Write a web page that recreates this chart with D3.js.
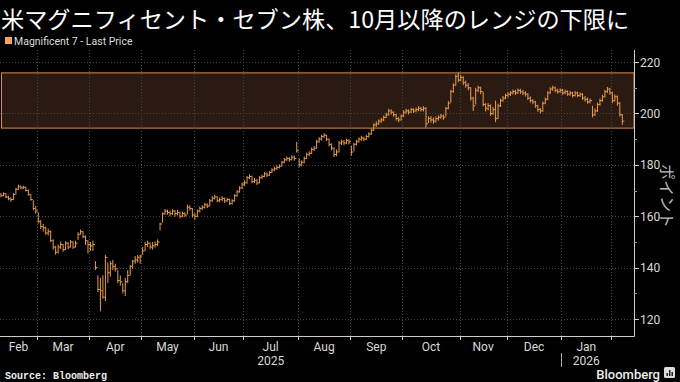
<!DOCTYPE html>
<meta charset="utf-8">
<style>
body{
    margin:0;
    background:#000;
}
svg{
    display:block;
}
.grid line{
    stroke:#444;
    stroke-dasharray:1,2;
}
.tick-label{
    fill:#d9d9d9;
    font-family:Roboto,"Liberation Sans",sans-serif;
    font-size:12px;
}
.bar{
    stroke:#eb9e4c;
    stroke-width:1;
}
</style>
<body>
<script src="https://d3js.org/d3.v7.min.js"></script>
<script>
// trading calendar
var startDate = "2025-02-06";
var holidays = ["2025-02-17","2025-04-18","2025-05-26","2025-06-19","2025-07-04",
                "2025-09-01","2025-11-27","2025-12-25","2026-01-01","2026-01-19"];

// daily bars
var closes = [
168.5,168,168.8,167.5,166.8,166.5,168.5,170.5,171.5,171,
171.3,170,168.5,166.5,163,162,158,156,155.5,153.5,
154,150.5,148,146,148,149,147,149.5,148,150,
148,149.5,153,154,152,150.5,149,148.5,149,140,
131.5,131,128.5,144,138,141.5,140.5,139.5,135,134.5,
131,134.5,137,140.5,142.5,143,144,144.5,146.5,149,
149.5,148,148.5,149,150,157,161,162,161.5,161,
162,161,161.5,160,161,160.5,163.5,163,160.5,160,
162,163,163.5,164.5,164,166,167,167.5,166,166.5,
167,166,166.5,165,166,168,169.5,171,172.5,173,
175,175.5,173.5,174,173,175,175.5,176.5,176,177,
178,178.5,179,179.5,181,182,182.5,182,183,182.5,
185.5,180,181,182.5,184,184.5,186,186.5,189,190,
191,191.5,190,188,186.5,184,185,188.5,189,188.5,
189.5,189,185,188,189,190,190.5,190,191,192,
193.5,195.5,196,197,197.5,198.5,199.5,201,200.5,199.5,
198,197.5,199,200.5,201,200.5,201.5,201,201.5,202,
201.5,202,196,198,197.5,197,198,198.5,199,198.5,
202,204,208.5,211,214.5,213,214,212,211,210,
206,203,209,210,208.5,203.5,202,203,200,201.5,
198,203,205,206,207,207.5,208,208.5,208,209,
208.5,208,207.5,206,205,204.5,203,201.5,201,204,
205.5,208,209.5,210,209,208.5,209,208,208.5,207.5,
208,207,208,207,207.5,206,205.5,204.5,205,199.5,
201,203.5,205,206.5,208.5,209.5,208,205,206.5,204,
199.5,197];

var highs = [
169.3,169,169.3,169,168,167.4,169,171,172.3,172,
171.9,171.5,170.4,168.6,166.2,164,161.5,158.5,157,156,
155.2,154.5,151,148.5,149,150.2,149.2,150.3,150,150.8,
150.2,150.5,153.8,154.8,154.2,152.5,150.6,150,150.5,142.5,
137,136,137,145,142,142.5,143,141.5,139,137,
134,136,139,141,143,144.5,145,145,148,150,
150.5,149.8,150,150.2,151,157.5,161.5,162.8,162.6,162.2,
162.8,162.4,162.5,161.8,161.8,161.6,164.5,164.2,163.2,161.2,
162.6,163.8,164.3,165.2,165,166.7,167.8,168.4,167.8,167.3,
167.8,167.3,167.2,166.8,166.6,168.6,170.2,171.7,173.2,174,
175.7,176.3,175.8,174.8,174.5,175.6,176.2,177.2,177,177.6,
178.7,179.3,179.8,180.2,181.6,182.7,183.3,183,183.7,183.6,
189,182.5,181.8,183.2,184.8,185.3,186.8,187.3,189.7,190.8,
191.7,192.3,191.8,190.2,188.4,186.8,186,189.2,189.8,189.6,
190.2,190,187.5,188.6,189.7,190.7,191.3,191,191.7,192.7,
194.2,196.2,196.9,197.7,198.3,199.2,200.3,201.8,201.6,200.8,
199.8,198.6,199.7,201.2,201.8,201.6,202.2,202,202.3,202.8,
202.6,202.8,202.5,198.9,199,198.4,198.8,199.3,199.8,199.6,
202.6,204.8,209.2,211.8,215.2,215.8,215,214.5,212.8,211.8,
210.2,206.5,210,210.8,210.4,208.5,204,204,203.5,202.5,
205,203.8,205.8,206.8,207.7,208.3,208.7,209.3,209.2,209.7,
209.6,209.2,208.6,207.9,206.6,205.6,204.9,203.4,202.2,204.6,
206.2,208.7,210.2,210.8,210.5,209.6,209.8,209.6,209.3,209,
208.8,208.4,208.7,208.5,208.2,207.9,206.8,206.2,205.8,203,
202,204.2,205.8,207.3,209.2,210.3,210,208.5,207.4,207,
204.5,199.8];

var lows = [
167.8,167.4,167.8,167,166.2,165.6,166.3,168.4,170.3,170.4,
170.6,169.6,168,166,162.4,161,157.2,155,154,152.8,
152.5,150,147,145,145.5,147.3,146.2,146.8,147.2,147.8,
147.3,147.8,150.8,152.8,151.5,148.8,145.5,146.5,146.5,139,
130.5,123,128,127,134,136.5,139,138.5,134,133,
130,129,134,137,139.5,141.5,142,141.5,145,146.5,
148,147.2,147,147.8,148.4,154.5,157.5,160.5,160.6,160,
160.5,159.8,160.3,159.2,159.6,159.7,160.8,162.2,159.5,158.6,
159.6,161.5,162.4,163,163.2,163.8,165.6,166.5,165.4,165.5,
165.9,165.2,165.6,164.3,164.5,165.7,167.6,169.2,170.6,171.8,
172.7,174.4,172.8,172.9,172.2,172.8,174.5,175.2,175.3,175.7,
176.8,177.6,178,178.6,179.3,180.6,181.5,181.2,181.7,181.6,
184.8,179,179.4,180.6,182.2,183.4,184.2,185.4,186.3,188.6,
189.5,190.4,189.3,187.2,185.6,183,183.4,184.8,187.8,187.6,
188,188,183.6,185.3,187.5,188.6,189.4,189.2,189.6,190.6,
191.6,193.2,194.8,195.6,196.4,197,198.2,199.2,199.6,198.7,
197.2,196.6,197.2,198.6,199.8,199.6,200.2,200.2,200.4,200.9,
200.7,200.8,194.5,196.3,196.4,196,196.5,197.2,197.9,197.5,
198.8,201.6,204.2,208,210.8,212.2,212.5,211,210,209,
205,201,203.5,208.2,207.5,202.8,200.8,201.2,199,199.4,
196.6,197.8,202.5,204.6,205.5,206.2,206.8,207.4,207.2,207.6,
207.6,207.1,206.6,205.2,204.2,203.6,202.2,200.7,200,200.6,
203.6,205.1,207.6,208.8,208.2,207.7,207.9,207.2,207.4,206.8,
206.9,206.2,206.6,206.3,206.4,205.3,204.6,203.8,203.9,198.5,
199,200.6,203,204.6,206.2,208,207.2,204,204.6,203,
198.8,195.6];

// the shaded range since October
var rangeTop = 215.8, rangeBottom = 194.3;

var yTicks = [120,140,160,180,200,220];
var yMinorTicks = [130,150,170,190,210];
var monthLabels = ["Feb","Mar","Apr","May","Jun","Jul","Aug","Sep","Oct","Nov","Dec","Jan"];
var yearLabels = ["2025","2026"];
var yearUnder = ["Jul","Jan"];

var W = 680, H = 382;
var plot = {left:0, right:634, top:50, bottom:336};

function tradingDays(n){
    var out = [], d = new Date(startDate + "T00:00:00");
    var fmt = d3.timeFormat("%Y-%m-%d");
    while(out.length < n){
        var wd = d.getDay();
        if(wd !== 0 && wd !== 6 && holidays.indexOf(fmt(d)) < 0) out.push(new Date(d));
        d.setDate(d.getDate() + 1);
    }
    return out;
}

var dates = tradingDays(closes.length);

var x = d3.scaleLinear().domain([0.6, 255.7]).range([plot.left, plot.right]);
var y = d3.scaleLinear().domain([113.4, 224.7]).range([plot.bottom, plot.top]);

var svg = d3.select("body").append("svg").attr("width", W).attr("height", H);

svg.append("defs").append("clipPath").attr("id","clip")
    .append("rect").attr("x",plot.left).attr("y",plot.top)
    .attr("width",plot.right-plot.left).attr("height",plot.bottom-plot.top);

// title + legend
svg.append("text").attr("x",1).attr("y",27.5)
    .style("font-family",'"Noto Sans CJK JP",sans-serif').style("font-size","23.2px")
    .attr("fill","#fff").text("米マグニフィセント・セブン株、10月以降のレンジの下限に");
svg.append("rect").attr("x",5).attr("y",37).attr("width",7).attr("height",7).attr("fill","#f7a658");
svg.append("text").attr("x",14).attr("y",44.5)
    .style("font-family",'Roboto,sans-serif').style("font-size","10.5px")
    .attr("fill","#ddd").text("Magnificent 7 - Last Price");

// month boundaries
var bounds = [];
for(var i=1;i<dates.length;i++){
    if(dates[i].getMonth() !== dates[i-1].getMonth()) bounds.push(i);
}

// range band
svg.append("rect")
    .attr("x",plot.left+1.5).attr("width",plot.right-plot.left-1.5)
    .attr("y",y(rangeTop)).attr("height",y(rangeBottom)-y(rangeTop))
    .attr("fill","#2a1a11").attr("stroke","#d98a4e").attr("stroke-width",1);

// grid
var grid = svg.append("g").attr("class","grid");
grid.selectAll("line.h").data(yTicks).enter().append("line").attr("class","h")
    .attr("x1",plot.left).attr("x2",plot.right)
    .attr("y1",function(d){return Math.round(y(d))+0.5;})
    .attr("y2",function(d){return Math.round(y(d))+0.5;});
grid.selectAll("line.v").data(bounds).enter().append("line").attr("class","v")
    .attr("x1",function(d){return Math.round(x(d-0.5))+0.5;})
    .attr("x2",function(d){return Math.round(x(d-0.5))+0.5;})
    .attr("y1",plot.top).attr("y2",plot.bottom);

// bars
var bars = svg.append("g").attr("clip-path","url(#clip)");
var idx = d3.range(closes.length);
bars.selectAll("line.hl").data(idx).enter().append("line").attr("class","bar hl")
    .attr("x1",function(i){return x(i);}).attr("x2",function(i){return x(i);})
    .attr("y1",function(i){return y(highs[i]);}).attr("y2",function(i){return y(lows[i]);});
bars.selectAll("line.cl").data(idx).enter().append("line").attr("class","bar cl")
    .attr("x1",function(i){return x(i);}).attr("x2",function(i){return x(i)+2;})
    .attr("y1",function(i){return y(closes[i]);}).attr("y2",function(i){return y(closes[i]);});

// right axis
var ax = svg.append("g");
ax.append("line").attr("x1",plot.right+0.5).attr("x2",plot.right+0.5)
    .attr("y1",plot.top).attr("y2",plot.bottom+0.5).attr("stroke","#ccc");
ax.selectAll("line.maj").data(yTicks).enter().append("line")
    .attr("x1",plot.right).attr("x2",plot.right+5)
    .attr("y1",function(d){return Math.round(y(d))+0.5;})
    .attr("y2",function(d){return Math.round(y(d))+0.5;}).attr("stroke","#ccc");
ax.selectAll("line.min").data(yMinorTicks).enter().append("line")
    .attr("x1",plot.right).attr("x2",plot.right+3)
    .attr("y1",function(d){return Math.round(y(d))+0.5;})
    .attr("y2",function(d){return Math.round(y(d))+0.5;}).attr("stroke","#999");
ax.selectAll("text").data(yTicks).enter().append("text").attr("class","tick-label")
    .attr("x",plot.right+6).attr("y",function(d){return y(d)+4.5;}).text(function(d){return d;});
svg.append("text").attr("transform","translate(661,196) rotate(90)")
    .attr("text-anchor","middle")
    .style("font-family",'"Noto Sans CJK JP",sans-serif').style("font-size","16px")
    .attr("fill","#bbb").text("ポイント");

// bottom axis
var bx = svg.append("g");
bx.append("line").attr("x1",plot.left).attr("x2",plot.right+0.5)
    .attr("y1",plot.bottom+0.5).attr("y2",plot.bottom+0.5).attr("stroke","#ccc");
bx.selectAll("line.t").data(bounds).enter().append("line")
    .attr("x1",function(d){return Math.round(x(d-0.5))+0.5;})
    .attr("x2",function(d){return Math.round(x(d-0.5))+0.5;})
    .attr("y1",plot.bottom).attr("y2",plot.bottom+4).attr("stroke","#ccc");

var edges = [plot.left].concat(bounds.map(function(b){return x(b-0.5);}));
var monthPos = {};
monthLabels.forEach(function(m,k){
    var cx = (edges[k] + edges[k+1]) / 2;
    monthPos[m] = cx;
    bx.append("text").attr("class","tick-label").attr("text-anchor","middle")
        .attr("x",cx).attr("y",351).text(m);
});
yearLabels.forEach(function(yr,k){
    bx.append("text").attr("class","tick-label").attr("text-anchor","middle")
        .attr("x",monthPos[yearUnder[k]]).attr("y",365).text(yr);
});
var janEdge = Math.round(edges[monthLabels.indexOf("Jan")])+0.5;
bx.append("line").attr("x1",janEdge).attr("x2",janEdge)
    .attr("y1",353).attr("y2",367).attr("stroke","#aaa");

// footer
svg.append("text").attr("x",5).attr("y",379)
    .style("font-family",'"Liberation Mono",monospace').style("font-size","10px")
    .style("font-weight","bold").attr("fill","#eee").text("Source: Bloomberg");
svg.append("text").attr("x",660).attr("y",379).attr("text-anchor","end")
    .style("font-family",'Roboto,sans-serif').style("font-size","13px").style("font-weight","500")
    .attr("fill","#eee").text("Bloomberg");
svg.append("rect").attr("x",664).attr("y",367).attr("width",11).attr("height",11)
    .attr("rx",1.5).attr("fill","#ddd");
[[666.5,3],[669,6],[671.5,4]].forEach(function(b){
    svg.append("rect").attr("x",b[0]).attr("y",376-b[1]).attr("width",1.5).attr("height",b[1]).attr("fill","#222");
});
</script>
